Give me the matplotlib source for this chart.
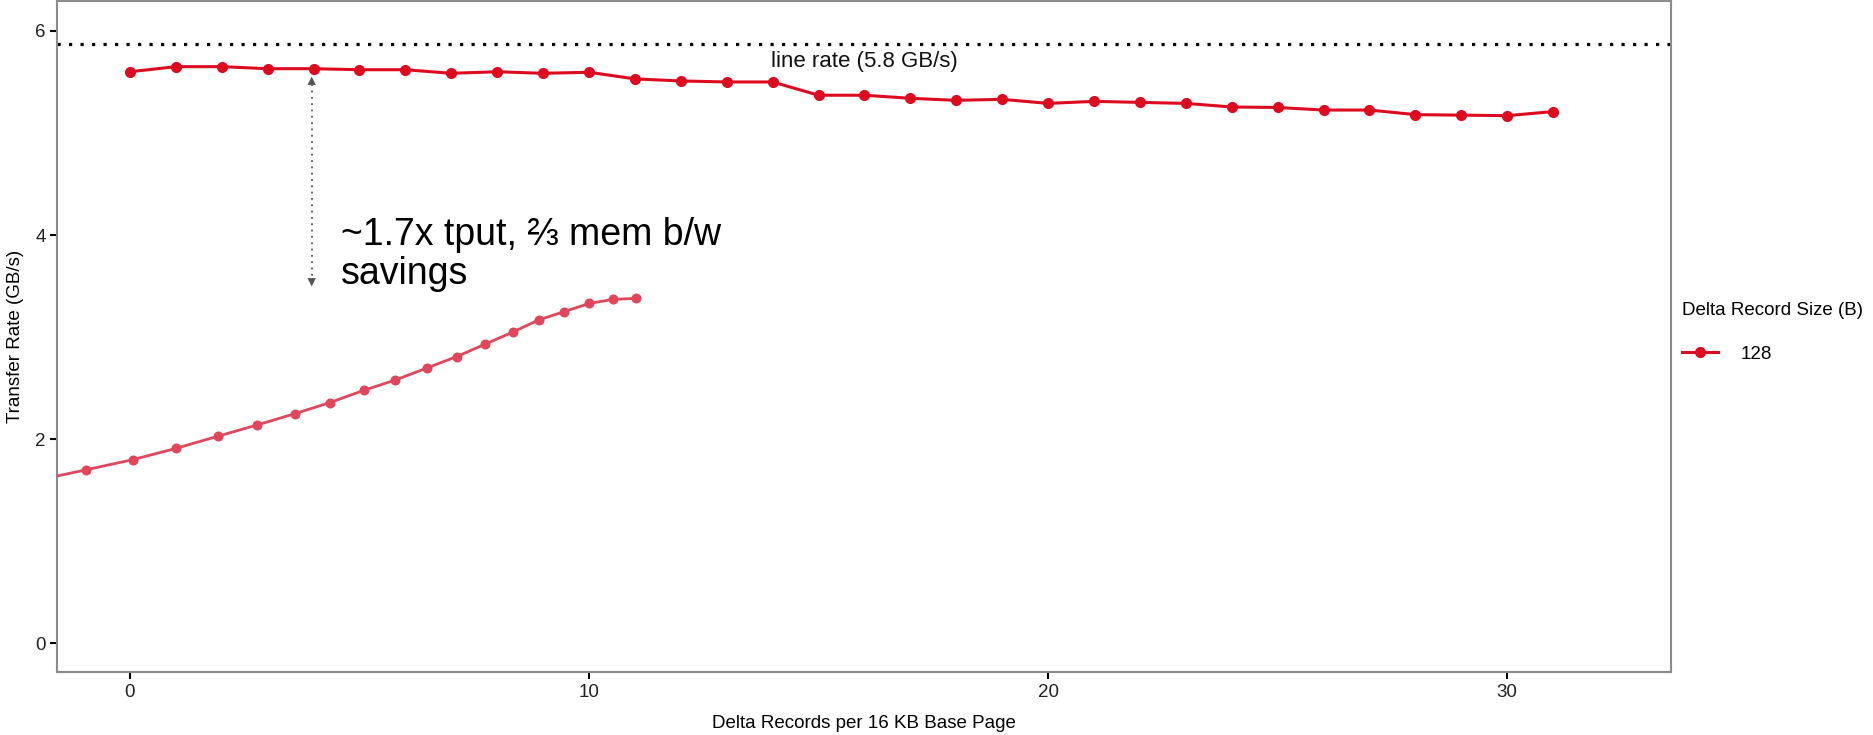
import matplotlib.pyplot as plt
from matplotlib.lines import Line2D

plt.rcParams['font.family'] = ['Liberation Sans', 'DejaVu Sans']

# measured throughput, 128 B delta records
records = list(range(32))
rate_128 = [5.60, 5.65, 5.65, 5.63, 5.63, 5.62, 5.62, 5.585, 5.60, 5.585,
            5.595, 5.53, 5.51, 5.50, 5.50, 5.37, 5.37, 5.34, 5.32, 5.33,
            5.29, 5.31, 5.30, 5.29, 5.255, 5.25, 5.225, 5.225, 5.18, 5.175,
            5.17, 5.21]

# older curve pasted over the plot (first point runs off the left edge)
old_x = [-2.0, -0.96, 0.06, 1.00, 1.92, 2.77, 3.59, 4.36, 5.10, 5.78,
         6.48, 7.12, 7.73, 8.34, 8.91, 9.46, 10.00, 10.52, 11.02]
old_rate = [1.60, 1.70, 1.80, 1.91, 2.03, 2.14, 2.25, 2.36, 2.48, 2.58,
            2.70, 2.81, 2.93, 3.05, 3.17, 3.25, 3.33, 3.37, 3.38]

line_rate = 5.87
xticks = [0, 10, 20, 30]
yticks = [0, 2, 4, 6]

red = '#dd0b20'
old_red = '#e0475a'

fig = plt.figure(figsize=(18.74, 7.35), dpi=100)
ax = fig.add_axes([0.0306, 0.0857, 0.8609, 0.9125])

ax.axhline(line_rate, color='black', linestyle=(0, (1, 2.6)), linewidth=2.3)
ax.text(16, 5.70, 'line rate (5.8 GB/s)', ha='center', va='center',
        fontsize=16, color='#111111')

ax.plot(old_x, old_rate, color=old_red, linewidth=2.0, marker='o',
        markersize=6.2, markevery=list(range(1, len(old_x))), zorder=3)
ax.plot(records, rate_128, color=red, linewidth=2.2, marker='o',
        markersize=7, zorder=4)

# double arrow between the two curves
ax.plot([3.96, 3.96], [3.54, 5.50], color='#555555', linestyle=(0, (1, 2.5)),
        linewidth=1.3)
ax.annotate('', xy=(3.96, 5.58), xytext=(3.96, 5.42),
            arrowprops=dict(arrowstyle='-|>', color='#555555', lw=0,
                            mutation_scale=15))
ax.annotate('', xy=(3.96, 3.47), xytext=(3.96, 3.63),
            arrowprops=dict(arrowstyle='-|>', color='#555555', lw=0,
                            mutation_scale=15))
ax.text(4.6, 3.81, '~1.7x tput, \u2154 mem b/w\nsavings', ha='left',
        va='center', fontsize=27, linespacing=1.12, color='black')

ax.set_xlim(-1.58, 33.56)
ax.set_ylim(-0.28, 6.29)
ax.set_xticks(xticks)
ax.set_yticks(yticks)
ax.tick_params(length=5, width=1.5, colors='black', labelsize=13.5)
for tl in ax.get_xticklabels() + ax.get_yticklabels():
    tl.set_color('#222222')
for s in ax.spines.values():
    s.set_color('#8c8c8c')
    s.set_linewidth(1.5)

ax.set_xlabel('Delta Records per 16 KB Base Page', fontsize=13.5, labelpad=10)
ax.set_ylabel('Transfer Rate (GB/s)', fontsize=13.5, labelpad=8)

handle = Line2D([], [], color=red, linewidth=2.2, marker='o', markersize=7)
leg = fig.legend([handle], ['128'], title='Delta Record Size (B)',
                 loc='upper left', bbox_to_anchor=(0.8886, 0.6115),
                 frameon=False, fontsize=13.5, title_fontsize=13.5,
                 handlelength=1.9, handletextpad=1.2, labelspacing=1.4)
leg._legend_box.align = 'left'

fig.savefig('out.png', dpi=100)
